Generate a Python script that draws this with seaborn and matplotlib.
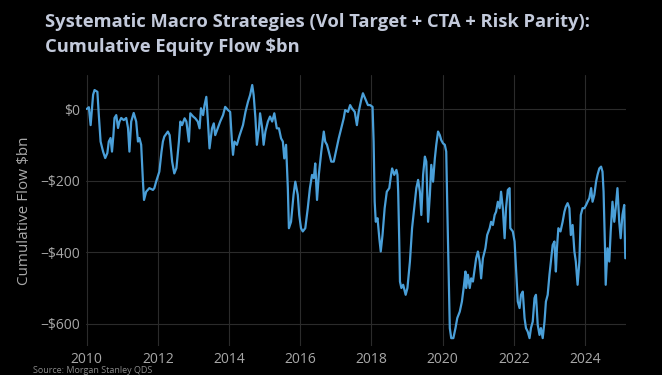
import matplotlib
matplotlib.use("Agg")
import matplotlib.pyplot as plt
import seaborn as sns
import pandas as pd

# Decimal-year positions and cumulative flow ($bn)
years = [
    2010.00, 2010.06, 2010.11, 2010.18, 2010.22, 2010.30, 2010.34, 2010.39, 2010.46, 2010.52,
    2010.58, 2010.62, 2010.67, 2010.71, 2010.75, 2010.78, 2010.83, 2010.88, 2010.92, 2010.97,
    2011.04, 2011.11, 2011.16, 2011.20, 2011.25, 2011.32, 2011.39, 2011.44, 2011.48, 2011.53,
    2011.58, 2011.61, 2011.67, 2011.76, 2011.86, 2011.90, 2011.95, 2012.04, 2012.10, 2012.14,
    2012.18, 2012.28, 2012.33, 2012.40, 2012.46, 2012.52, 2012.59, 2012.63, 2012.68, 2012.75,
    2012.80, 2012.87, 2012.91, 2012.99, 2013.05, 2013.12, 2013.17, 2013.21, 2013.27, 2013.31,
    2013.36, 2013.40, 2013.45, 2013.52, 2013.57, 2013.61, 2013.68, 2013.75, 2013.83, 2013.89,
    2013.97, 2014.03, 2014.08, 2014.11, 2014.15, 2014.22, 2014.29, 2014.39, 2014.46, 2014.53,
    2014.59, 2014.65, 2014.69, 2014.74, 2014.78, 2014.84, 2014.87, 2014.93, 2014.97, 2015.02,
    2015.09, 2015.15, 2015.21, 2015.27, 2015.34, 2015.40, 2015.46, 2015.51, 2015.55, 2015.60,
    2015.65, 2015.68, 2015.74, 2015.81, 2015.86, 2015.93, 2015.97, 2016.02, 2016.07, 2016.14,
    2016.21, 2016.27, 2016.33, 2016.38, 2016.42, 2016.47, 2016.52, 2016.59, 2016.66, 2016.70,
    2016.75, 2016.80, 2016.87, 2016.94, 2017.00, 2017.08, 2017.15, 2017.22, 2017.26, 2017.34,
    2017.40, 2017.45, 2017.53, 2017.59, 2017.64, 2017.71, 2017.76, 2017.82, 2017.90, 2017.96,
    2018.03, 2018.06, 2018.09, 2018.12, 2018.17, 2018.22, 2018.26, 2018.31, 2018.37, 2018.43,
    2018.50, 2018.55, 2018.58, 2018.64, 2018.70, 2018.73, 2018.75, 2018.78, 2018.80, 2018.84,
    2018.89, 2018.96, 2019.01, 2019.08, 2019.14, 2019.20, 2019.26, 2019.31, 2019.36, 2019.40,
    2019.45, 2019.50, 2019.54, 2019.59, 2019.64, 2019.68, 2019.73, 2019.78, 2019.82, 2019.87,
    2019.92, 2019.96, 2020.01, 2020.06, 2020.10, 2020.13, 2020.17, 2020.20, 2020.24, 2020.30,
    2020.36, 2020.41, 2020.48, 2020.54, 2020.60, 2020.64, 2020.66, 2020.71, 2020.76, 2020.80,
    2020.85, 2020.90, 2020.94, 2020.99, 2021.04, 2021.08, 2021.13, 2021.20, 2021.25, 2021.32,
    2021.36, 2021.41, 2021.46, 2021.50, 2021.55, 2021.60, 2021.64, 2021.69, 2021.74, 2021.78,
    2021.83, 2021.88, 2021.90, 2021.97, 2022.02, 2022.06, 2022.11, 2022.16, 2022.20, 2022.25,
    2022.30, 2022.34, 2022.39, 2022.44, 2022.48, 2022.53, 2022.58, 2022.62, 2022.67, 2022.72,
    2022.76, 2022.81, 2022.86, 2022.90, 2022.95, 2023.00, 2023.04, 2023.09, 2023.14, 2023.18,
    2023.21, 2023.25, 2023.31, 2023.37, 2023.42, 2023.46, 2023.51, 2023.56, 2023.60, 2023.65,
    2023.70, 2023.74, 2023.79, 2023.84, 2023.88, 2023.93, 2023.98, 2024.03, 2024.07, 2024.12,
    2024.17, 2024.21, 2024.26, 2024.31, 2024.35, 2024.40, 2024.45, 2024.49, 2024.52, 2024.56,
    2024.58, 2024.63, 2024.68, 2024.72, 2024.77, 2024.82, 2024.86, 2024.91, 2024.96, 2025.00,
    2025.05, 2025.10, 2025.13,
]
flow = [
    0, 5, -45, 40, 53, 48, -17, -91, -119, -137,
    -123, -91, -81, -119, -73, -25, -17, -53, -35, -25,
    -31, -25, -53, -119, -35, -11, -35, -91, -81, -100,
    -203, -254, -231, -221, -226, -221, -203, -175, -120, -91,
    -77, -63, -73, -147, -180, -165, -91, -35, -45, -26,
    -35, -91, -12, -21, -26, -35, -54, 2, -17, 11,
    34, -26, -110, -54, -40, -73, -54, -35, -17, 6,
    -3, -8, -91, -128, -91, -100, -75, -45, -8, 20,
    39, 67, 39, -26, -100, -54, -12, -54, -100, -63,
    -35, -21, -35, -12, -54, -54, -82, -91, -138, -100,
    -221, -333, -315, -240, -203, -240, -296, -333, -342, -333,
    -277, -221, -184, -193, -152, -254, -184, -119, -63, -91,
    -100, -119, -147, -147, -119, -82, -54, -26, -3, -8,
    11, 2, -8, -45, -8, 25, 44, 30, 11, 11,
    6, -91, -259, -315, -305, -361, -398, -352, -277, -231,
    -221, -184, -166, -184, -170, -184, -231, -370, -482, -500,
    -491, -519, -500, -426, -333, -277, -221, -198, -231, -296,
    -184, -133, -147, -315, -240, -156, -203, -138, -100, -63,
    -73, -87, -96, -100, -119, -277, -463, -612, -640, -640,
    -612, -584, -566, -538, -491, -454, -500, -463, -500, -473,
    -482, -445, -417, -398, -426, -473, -417, -389, -352, -333,
    -315, -324, -296, -287, -259, -277, -231, -277, -361, -277,
    -226, -221, -333, -342, -370, -445, -538, -556, -519, -510,
    -584, -612, -622, -640, -612, -594, -528, -519, -603, -631,
    -612, -640, -594, -538, -519, -463, -426, -380, -370, -454,
    -389, -333, -342, -315, -287, -273, -263, -277, -352, -324,
    -398, -426, -491, -426, -296, -277, -277, -268, -259, -249,
    -221, -259, -240, -203, -184, -166, -161, -175, -231, -389,
    -491, -389, -426, -342, -259, -315, -277, -221, -315, -361,
    -296, -268, -417,
]
x_ticks = [2010, 2012, 2014, 2016, 2018, 2020, 2022, 2024]
y_ticks = [0, -200, -400, -600]
y_tick_labels = ["$0", "\u2212$200", "\u2212$400", "\u2212$600"]

title_text = "Systematic Macro Strategies (Vol Target + CTA + Risk Parity):\nCumulative Equity Flow $bn"
y_label = "Cumulative Flow $bn"
source_text = "Source: Morgan Stanley QDS"

sns.set_theme(style="dark")
plt.rcParams["font.family"] = ["Open Sans", "DejaVu Sans"]

df = pd.DataFrame({"year": years, "flow": flow})

fig = plt.figure(figsize=(6.62, 3.75), dpi=100, facecolor="black")
ax = fig.add_axes([86 / 662, 1 - 346 / 375, (626 - 86) / 662, (346 - 75) / 375])
ax.set_facecolor("black")

sns.lineplot(data=df, x="year", y="flow", ax=ax, color="#4a9fd8", linewidth=1.6)

ax.set_xlim(2009.98, 2025.15)
ax.set_ylim(-662, 95)
ax.set_xticks(x_ticks)
ax.set_xticklabels([str(t) for t in x_ticks])
ax.set_yticks(y_ticks)
ax.set_yticklabels(y_tick_labels)
ax.grid(True, color="#2b2b2b", linewidth=0.8)
for s in ax.spines.values():
    s.set_visible(False)
ax.tick_params(axis="both", colors="#a8a8a8", labelsize=10, length=0, pad=4)
ax.set_xlabel("")
ax.set_ylabel(y_label, color="#a8a8a8", fontsize=11, labelpad=6)

fig.text(45 / 662, 1 - 13 / 375, title_text, color="#c3cadb", fontsize=13.2,
         fontweight="bold", va="top", ha="left", linespacing=1.5)
fig.text(33 / 662, 0.0, source_text, color="#8a8a8a", fontsize=6.5,
         va="bottom", ha="left")

fig.savefig("out.png", dpi=100, facecolor="black")
